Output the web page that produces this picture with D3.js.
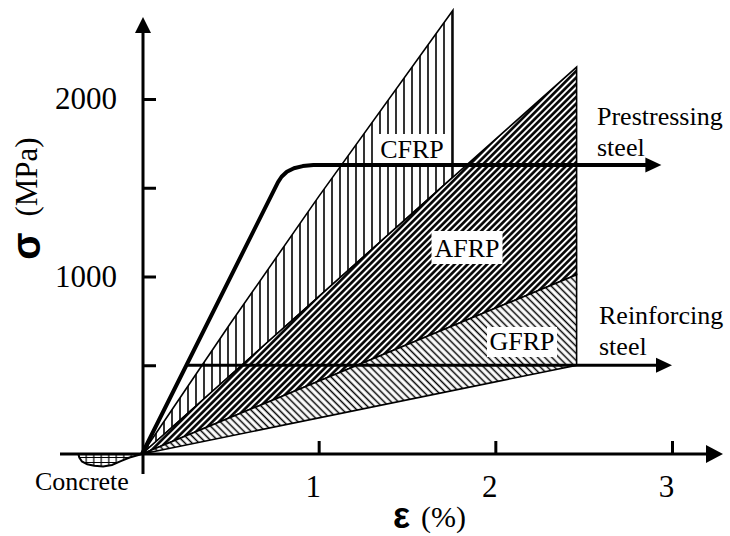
<!DOCTYPE html>
<html>
<head>
<meta charset="utf-8">
<script src="https://cdn.jsdelivr.net/npm/d3@7"></script>
<style>
  body { margin: 0; background: #fff; }
  text { font-family: "Liberation Serif", "Times New Roman", serif; fill: #000; }
</style>
</head>
<body>
<div id="chart"></div>
<script>
// strain in %, stress in MPa
const strainTicks = [1, 2, 3];
const stressTicks = [500, 1000, 1500, 2000];
const stressLabels = [1000, 2000];

const cfrpUpperStrain = [0, 0.5, 1.0, 1.76];
const cfrpUpperStress = [0, 735, 1450, 2500];
const cfrpLowerStrain = [0, 1.76];
const cfrpLowerStress = [0, 1560];

const afrpUpperStrain = [0, 2.46];
const afrpUpperStress = [0, 2180];
const afrpLowerStrain = [0, 2.46];
const afrpLowerStress = [0, 1010];

const gfrpUpperStrain = [0, 2.46];
const gfrpUpperStress = [0, 1010];
const gfrpLowerStrain = [0, 2.46];
const gfrpLowerStress = [0, 500];

const prestressStrain = [0, 0.77, 0.79, 0.82, 0.86, 0.91, 0.97, 2.94];
const prestressStress = [0, 1532, 1562, 1590, 1610, 1622, 1628, 1628];

const rebarStrain = [0.25, 3.0];
const rebarStress = [500, 500];

const concreteStrain = [0, -0.03, -0.07, -0.12, -0.17, -0.22, -0.27, -0.31, -0.34, -0.355, -0.36];
const concreteStress = [0, -8, -20, -40, -62, -70, -66, -58, -42, -20, 0];

const width = 730;
const height = 536;

const x = d3.scaleLinear().domain([0, 3]).range([142, 672]);
const y = d3.scaleLinear().domain([0, 2000]).range([454, 99]);

const pts = (s, v) => s.map((d, i) => [d, v[i]]);
const line = d3.line().x((d) => x(d[0])).y((d) => y(d[1]));

function region(us, uv, ls, lv) {
  const upper = pts(us, uv);
  const lower = pts(ls, lv).reverse();
  return line(upper.concat(lower)) + "Z";
}

const svg = d3
  .select("#chart")
  .append("svg")
  .attr("width", width)
  .attr("height", height);

svg.append("rect").attr("width", width).attr("height", height).attr("fill", "#fff");

const defs = svg.append("defs");

function hatch(id, w, angle, sw) {
  const p = defs
    .append("pattern")
    .attr("id", id)
    .attr("patternUnits", "userSpaceOnUse")
    .attr("width", w)
    .attr("height", 10)
    .attr("patternTransform", `rotate(${angle})`);
  p.append("rect").attr("width", w).attr("height", 10).attr("fill", "#fff");
  p.append("line")
    .attr("x1", w / 2)
    .attr("x2", w / 2)
    .attr("y1", 0)
    .attr("y2", 10)
    .attr("stroke", "#000")
    .attr("stroke-width", sw);
}
hatch("hatch-cfrp", 8, 0, 1.6);
hatch("hatch-afrp", 4.6, 45, 2.6);
hatch("hatch-gfrp", 5, -45, 1.5);

const grid = defs
  .append("pattern")
  .attr("id", "hatch-concrete")
  .attr("patternUnits", "userSpaceOnUse")
  .attr("width", 7.5)
  .attr("height", 5);
grid.append("rect").attr("width", 7.5).attr("height", 5).attr("fill", "#fff");
grid.append("path").attr("d", "M3.75,0V5M0,2.5H7.5").attr("stroke", "#000").attr("stroke-width", 1.2);

// FRP bands
const bands = [
  { id: "cfrp", d: region(cfrpUpperStrain, cfrpUpperStress, cfrpLowerStrain, cfrpLowerStress) },
  { id: "afrp", d: region(afrpUpperStrain, afrpUpperStress, afrpLowerStrain, afrpLowerStress) },
  { id: "gfrp", d: region(gfrpUpperStrain, gfrpUpperStress, gfrpLowerStrain, gfrpLowerStress) },
];
svg
  .append("g")
  .selectAll("path")
  .data(bands)
  .join("path")
  .attr("d", (d) => d.d)
  .attr("fill", (d) => `url(#hatch-${d.id})`)
  .attr("stroke", "#000")
  .attr("stroke-width", 1.6)
  .attr("stroke-linejoin", "miter");

// concrete
svg
  .append("path")
  .attr("d", line(pts(concreteStrain, concreteStress)) + "Z")
  .attr("fill", "url(#hatch-concrete)")
  .attr("stroke", "#000")
  .attr("stroke-width", 2);

// label boxes
const boxLabels = [
  { text: "CFRP", cx: 412, base: 158, w: 75, h: 31 },
  { text: "AFRP", cx: 467, base: 257, w: 71, h: 33 },
  { text: "GFRP", cx: 522, base: 350, w: 70, h: 30 },
];
const lab = svg.append("g").selectAll("g").data(boxLabels).join("g");
lab
  .append("rect")
  .attr("x", (d) => d.cx - d.w / 2)
  .attr("y", (d) => d.base - d.h + 7)
  .attr("width", (d) => d.w)
  .attr("height", (d) => d.h)
  .attr("fill", "#fff");
lab
  .append("text")
  .attr("x", (d) => d.cx)
  .attr("y", (d) => d.base)
  .attr("text-anchor", "middle")
  .style("font-size", "26px")
  .text((d) => d.text);

function arrowHead(tx, ty, dir, len, half) {
  // dir: "right" or "up"
  const p =
    dir === "right"
      ? `M${tx},${ty}L${tx - len},${ty - half}L${tx - len},${ty + half}Z`
      : `M${tx},${ty}L${tx - half},${ty + len}L${tx + half},${ty + len}Z`;
  svg.append("path").attr("d", p).attr("fill", "#000");
}

// steel curves
function steel(s, v, sw) {
  const data = pts(s, v);
  const n = data.length;
  svg
    .append("path")
    .attr(
      "d",
      d3
        .line()
        .x((d, i) => (i === n - 1 ? x(d[0]) - 10 : x(d[0])))
        .y((d) => y(d[1]))(data)
    )
    .attr("fill", "none")
    .attr("stroke", "#000")
    .attr("stroke-width", sw)
    .attr("stroke-linejoin", "round");
  arrowHead(x(s[n - 1]), y(v[n - 1]), "right", 16, 7.5);
}
steel(prestressStrain, prestressStress, 4);
steel(rebarStrain, rebarStress, 3);

// axes
const axisG = svg.append("g");
axisG
  .append("line")
  .attr("x1", 60)
  .attr("x2", 712)
  .attr("y1", y(0))
  .attr("y2", y(0))
  .attr("stroke", "#000")
  .attr("stroke-width", 3);
arrowHead(723, y(0), "right", 17, 9);
axisG
  .append("line")
  .attr("x1", x(0) + 1)
  .attr("x2", x(0) + 1)
  .attr("y1", 474)
  .attr("y2", 28)
  .attr("stroke", "#000")
  .attr("stroke-width", 3);
arrowHead(x(0) + 1, 17, "up", 16, 8);

const xAxis = svg
  .append("g")
  .attr("transform", `translate(0,${y(0)})`)
  .call(
    d3
      .axisBottom(x)
      .tickValues(strainTicks)
      .tickSize(-13)
      .tickPadding(21)
      .tickFormat(d3.format("d"))
  );
const yAxis = svg
  .append("g")
  .attr("transform", `translate(${x(0) + 1},0)`)
  .call(
    d3
      .axisLeft(y)
      .tickValues(stressTicks)
      .tickSize(-13)
      .tickPadding(26)
      .tickFormat((d) => (stressLabels.includes(d) ? d : ""))
  );
[xAxis, yAxis].forEach((g) => {
  g.select(".domain").remove();
  g.selectAll(".tick line").attr("stroke", "#000").attr("stroke-width", 3);
  g.selectAll(".tick text")
    .attr("fill", "#000")
    .style("font-family", '"Liberation Serif", "Times New Roman", serif')
    .style("font-size", "31px");
});
xAxis.selectAll(".tick text").attr("dx", -6);

// side labels
const side = [
  { text: "Prestressing", x: 597, y: 125 },
  { text: "steel", x: 597, y: 156 },
  { text: "Reinforcing", x: 599, y: 324 },
  { text: "steel", x: 599, y: 355 },
  { text: "Concrete", x: 35, y: 490 },
];
svg
  .append("g")
  .selectAll("text")
  .data(side)
  .join("text")
  .attr("x", (d) => d.x)
  .attr("y", (d) => d.y)
  .style("font-size", "26px")
  .text((d) => d.text);

// axis titles
svg
  .append("text")
  .attr("transform", "translate(40,246) rotate(-90)")
  .attr("text-anchor", "middle")
  .style("font-family", '"Liberation Sans", Arial, sans-serif')
  .style("font-weight", "bold")
  .style("font-size", "40px")
  .text("σ");
svg
  .append("text")
  .attr("transform", "translate(37,177) rotate(-90)")
  .attr("text-anchor", "middle")
  .style("font-size", "31px")
  .text("(MPa)");

svg
  .append("text")
  .attr("x", 393)
  .attr("y", 528)
  .style("font-family", '"Liberation Sans", Arial, sans-serif')
  .style("font-weight", "bold")
  .style("font-size", "36px")
  .text("ε");
svg
  .append("text")
  .attr("x", 421)
  .attr("y", 527)
  .style("font-size", "30px")
  .text("(%)");
</script>
</body>
</html>
